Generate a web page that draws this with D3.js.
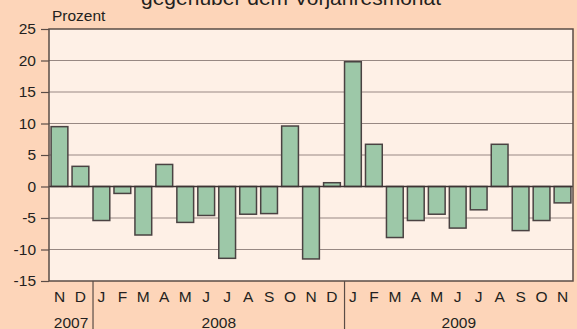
<!DOCTYPE html>
<html>
<head>
<meta charset="utf-8">
<script src="https://cdn.jsdelivr.net/npm/d3@7"></script>
<style>
  html, body { margin: 0; padding: 0; background: #fdd5b9; }
  svg { display: block; }
  text { font-family: "Liberation Sans", Arial, sans-serif; fill: #231f20; }
</style>
</head>
<body>
<svg id="chart" width="577" height="329"></svg>
<script>
// Monthly change versus the same month of the previous year, in percent
const months = ["N", "D", "J", "F", "M", "A", "M", "J", "J", "A", "S", "O", "N", "D",
                "J", "F", "M", "A", "M", "J", "J", "A", "S", "O", "N"];
const years = ["2007", "2007", "2008", "2008", "2008", "2008", "2008", "2008", "2008", "2008", "2008", "2008", "2008", "2008",
               "2009", "2009", "2009", "2009", "2009", "2009", "2009", "2009", "2009", "2009", "2009"];
const values = [9.5, 3.2, -5.4, -1.1, -7.7, 3.5, -5.7, -4.6, -11.4, -4.4, -4.3, 9.6, -11.5, 0.6,
                19.8, 6.7, -8.1, -5.4, -4.4, -6.6, -3.7, 6.7, -7.0, -5.4, -2.6];
const yTicks = [25, 20, 15, 10, 5, 0, -5, -10, -15];
const yearGroups = ["2007", "2008", "2009"];

const svg = d3.select("#chart");
const W = 577, H = 329;
const plot = { left: 49, right: 573, top: 29, bottom: 281 };
const labelSize = "15.5px";

const ids = months.map((m, i) => i);
const x = d3.scaleBand()
  .domain(ids)
  .range([plot.left, plot.right])
  .paddingInner(0.2)
  .paddingOuter(0.1);

const y = d3.scaleLinear()
  .domain([-15, 25])
  .range([plot.bottom, plot.top]);

// title line (upper part runs off the top edge)
svg.append("text")
  .attr("x", 291)
  .attr("y", 4.5)
  .attr("text-anchor", "middle")
  .style("font-size", "21px")
  .text("gegenüber dem Vorjahresmonat");

// plot background
svg.append("rect")
  .attr("x", plot.left).attr("y", plot.top)
  .attr("width", plot.right - plot.left)
  .attr("height", plot.bottom - plot.top)
  .attr("fill", "#fef0e6");

// horizontal grid
svg.append("g")
  .selectAll("line")
  .data(yTicks.filter(t => t !== 0 && t !== 25 && t !== -15))
  .join("line")
  .attr("x1", plot.left).attr("x2", plot.right)
  .attr("y1", d => y(d)).attr("y2", d => y(d))
  .attr("stroke", "#978883")
  .attr("stroke-width", 1.2);

// y axis with ticks to the left
const yAxis = d3.axisLeft(y)
  .tickValues(yTicks)
  .tickSize(8)
  .tickPadding(5)
  .tickFormat(d => String(d));
const gy = svg.append("g")
  .attr("transform", `translate(${plot.left},0)`)
  .call(yAxis);
gy.select(".domain").remove();
gy.selectAll(".tick line").attr("stroke", "#5a4c46").attr("stroke-width", 1.2);
gy.selectAll(".tick text")
  .style("font-size", labelSize)
  .style("font-family", "'Liberation Sans', Arial, sans-serif")
  .attr("fill", "#231f20");

// bars
svg.append("g")
  .selectAll("rect")
  .data(values)
  .join("rect")
  .attr("x", (d, i) => x(i))
  .attr("width", x.bandwidth())
  .attr("y", d => y(Math.max(0, d)))
  .attr("height", d => Math.abs(y(d) - y(0)))
  .attr("fill", "#9dc8a8")
  .attr("stroke", "#4a4242")
  .attr("stroke-width", 1.5);

// zero line
svg.append("line")
  .attr("x1", plot.left).attr("x2", plot.right)
  .attr("y1", y(0)).attr("y2", y(0))
  .attr("stroke", "#3e3434")
  .attr("stroke-width", 1.5);

// plot frame
svg.append("rect")
  .attr("x", plot.left).attr("y", plot.top)
  .attr("width", plot.right - plot.left)
  .attr("height", plot.bottom - plot.top)
  .attr("fill", "none")
  .attr("stroke", "#5a4c46")
  .attr("stroke-width", 1.5);

// unit label
svg.append("text")
  .attr("x", 52)
  .attr("y", 21)
  .style("font-size", labelSize)
  .text("Prozent");

// month labels
svg.append("g")
  .selectAll("text")
  .data(months)
  .join("text")
  .attr("x", (d, i) => x(i) + x.bandwidth() / 2)
  .attr("y", 302)
  .attr("text-anchor", "middle")
  .style("font-size", labelSize)
  .text(d => d);

// year separators and year labels
const spans = yearGroups.map(yr => {
  const idx = years.map((v, i) => v === yr ? i : -1).filter(i => i >= 0);
  return { yr, first: idx[0], last: idx[idx.length - 1] };
});
const bounds = spans.map(s => ({
  yr: s.yr,
  x0: s.first === 0 ? plot.left : x(s.first),
  x1: s.last === years.length - 1 ? plot.right : x(s.last + 1)
}));

svg.append("g")
  .selectAll("line")
  .data(bounds.slice(1))
  .join("line")
  .attr("x1", d => d.x0).attr("x2", d => d.x0)
  .attr("y1", plot.bottom).attr("y2", H)
  .attr("stroke", "#5a4c46")
  .attr("stroke-width", 1.2);

svg.append("g")
  .selectAll("text")
  .data(bounds)
  .join("text")
  .attr("x", d => (d.x0 + d.x1) / 2)
  .attr("y", 327.5)
  .attr("text-anchor", "middle")
  .style("font-size", labelSize)
  .text(d => d.yr);
</script>
</body>
</html>
